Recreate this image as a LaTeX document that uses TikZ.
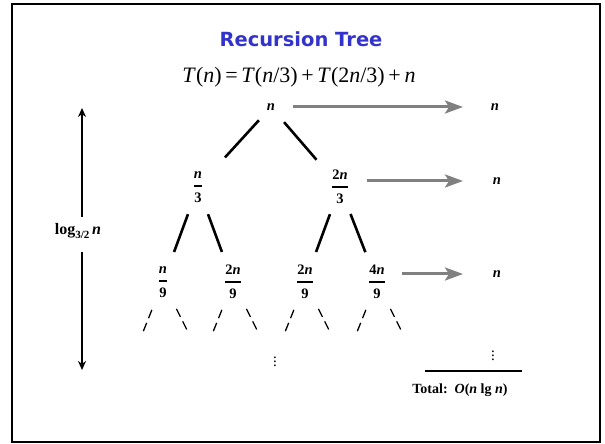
\documentclass[tikz,border=0pt]{standalone}
\usepackage{amsmath}
\usepackage{fontspec}
\setmainfont{Liberation Serif}
\newfontfamily\titlefont{DejaVu Sans}
\usepackage{xcolor}
\usepackage{tikz}
\usetikzlibrary{arrows.meta, positioning}

\definecolor{slideblue}{RGB}{51,51,204}
\definecolor{arrowgray}{RGB}{128,128,128}

\newcommand{\fr}[2]{$\genfrac{}{}{2pt}{0}{\text{#1}}{\text{#2}}$}
\newcommand{\vn}{\textit{n}}

\tikzset{
  term/.style={font=\fontsize{14.5}{16}\selectfont\bfseries, inner sep=1pt, on grid},
  branch/.style={line width=2.6pt, shorten <=29pt, shorten >=32pt},
  stub/.style={line width=1.3pt, dash pattern=on 9pt off 5pt, shorten <=30pt},
  sum/.style={draw=arrowgray, line width=3pt, -{Stealth[length=18pt,width=13pt,inset=4pt]}},
  span/.style={line width=2pt, -{Stealth[length=9pt,width=8pt]}},
  dots/.style={font=\fontsize{15}{15}\selectfont, inner sep=0pt}
}

\begin{document}
\begin{tikzpicture}[x=1pt,y=1pt]
  \useasboundingbox (0,0) rectangle (605,444);
  \draw[line width=2pt] (12,440) rectangle (600,2);

  \node[font=\titlefont\fontsize{19.5}{22}\selectfont\bfseries, text=slideblue] (title) at (301,405) {Recursion Tree};
  \node[font=\fontsize{22}{26}\selectfont] (eq) at (299,367)
    {\textit{T}(\vn)\,=\,\textit{T}(\vn/3)\,+\,\textit{T}(2\vn/3)\,+\,\vn};

  \node[term] (A) at (271,337) {\vn}; %root
  \node[term] (B) [below left=80pt and 73pt of A] {\fr{\vn}{3}};
  \node[term] (C) [below right=80pt and 69pt of A] {\fr{2\vn}{3}};

  \node[term] (D) [below left=95pt and 35pt of B] {\fr{\vn}{9}};
  \node[term] (E) [below right=95pt and 35pt of B] {\fr{2\vn}{9}};
  \node[term] (F) [below left=95pt and 35pt of C] {\fr{2\vn}{9}};
  \node[term] (G) [below right=95pt and 37pt of C] {\fr{4\vn}{9}};

  % row sums
  \node[term] (R1) at (495,337) {\vn};
  \node[term] (R2) at (497,263) {\vn};
  \node[term] (R3) at (497,170) {\vn};

  \node[dots] (V1) at (275,85) {\vdots};
  \node[dots] (V2) at (493,91) {\vdots};
  \draw[line width=2pt] (425,73) -- (522,73);
  \node[term, font=\fontsize{14}{16}\selectfont\bfseries] (T) at (460,54) {Total:\ \ \textit{O}(\vn\ lg \vn)};

  % height
  \node[term, font=\fontsize{16}{18}\selectfont\bfseries] (L) at (78,213)
    {log\raisebox{-4pt}{\fontsize{11}{12}\selectfont 3/2}\,\textit{n}};
  \coordinate (top) at (82,336);
  \coordinate (bot) at (82,74);
  \draw[span, shorten <=14pt] (top |- L.center) -- (top);
  \draw[span, shorten <=21pt] (top |- L.center) -- (bot);

  \path[branch]
  (A.center) edge [shorten <=18pt, shorten >=40pt] (B.center)
  (A.center) edge [shorten <=20pt, shorten >=36pt] (C.center)
  (B.center) edge (D.center)
  (B.center) edge (E.center)
  (C.center) edge (F.center)
  (C.center) edge (G.center);

  \foreach \p in {D,E,F,G} {
    \path (\p.center) ++(-20,-50) coordinate (\p l);
    \path (\p.center) ++(25,-50) coordinate (\p r);
    \draw[stub] (\p.center) -- (\p l);
    \draw[stub] (\p.center) -- (\p r);
  }

  \draw[sum, shorten <=22pt, shorten >=32pt] (A.center) -- (R1.center);
  \draw[sum, shorten <=27pt, shorten >=34pt] (C.center |- R2.center) -- (R2.center);
  \draw[sum, shorten <=25pt, shorten >=34pt] (G.center |- R3.center) -- (R3.center);
\end{tikzpicture}
\end{document}
